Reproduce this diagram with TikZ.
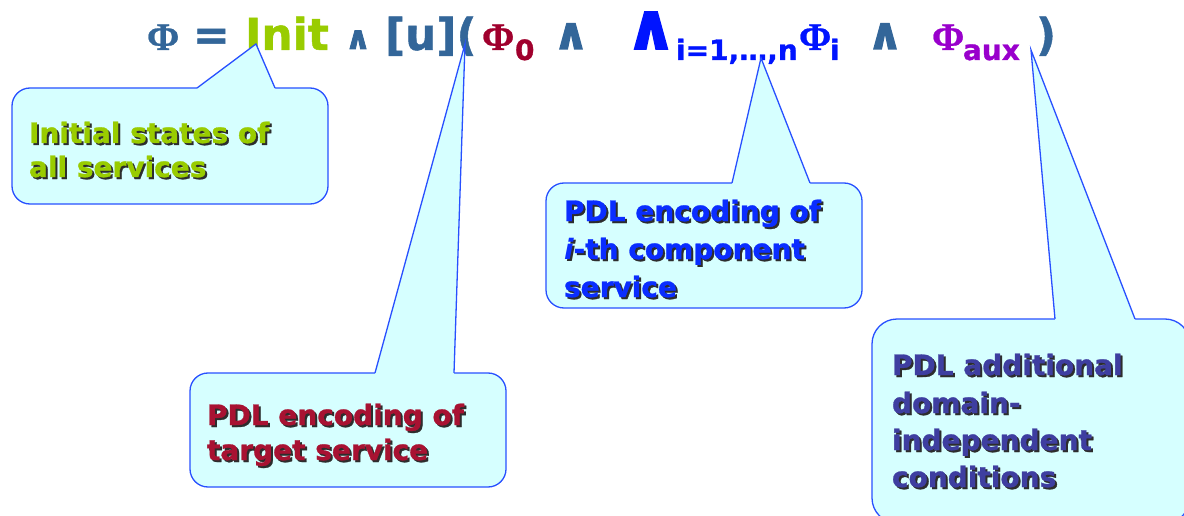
\documentclass[tikz,border=0pt]{standalone}
\usepackage{fontspec}
\setmainfont{DejaVu Sans}[BoldFeatures={FakeBold=1.0}]
\newfontfamily\phifont{Liberation Serif}[BoldFeatures={FakeBold=0.6}]
\newfontfamily\andfont{DejaVu Sans}[BoldFeatures={FakeBold=2.5}]
\usetikzlibrary{calc}

\definecolor{steel}{RGB}{51,102,153}
\definecolor{initgreen}{RGB}{153,204,0}
\definecolor{targetred}{RGB}{160,0,45}
\definecolor{compblue}{RGB}{0,20,255}
\definecolor{auxpurple}{RGB}{153,0,204}
\definecolor{boxfill}{RGB}{214,255,255}
\definecolor{boxedge}{RGB}{40,80,255}
\definecolor{txtshadow}{RGB}{45,45,45}
\definecolor{greentxt}{RGB}{153,204,0}
\definecolor{redtxt}{RGB}{168,18,50}
\definecolor{bluetxt}{RGB}{10,45,255}
\definecolor{indigotxt}{RGB}{62,62,160}

\tikzset{
  piece/.style={anchor=base west, inner sep=0pt, outer sep=0pt},
  bigtxt/.style={font=\fontsize{44}{50}\selectfont\bfseries},
  subtxt/.style={font=\fontsize{28}{32}\selectfont\bfseries},
  phitxt/.style={font=\fontsize{39}{44}\selectfont\bfseries\phifont},
  andtxt/.style={anchor=base, inner sep=0pt, outer sep=0pt},
  andsize/.style={font=\fontsize{#1}{#1}\selectfont\bfseries\andfont},
  callbox/.style={draw=boxedge, fill=boxfill, line width=1.3pt,
    rounded corners=#1, anchor=north west, inner sep=0pt, outer sep=0pt},
  callbox/.default=18pt,
  pointeredge/.style={draw=boxedge, line width=1.3pt, line join=miter},
  calltext/.style={anchor=base west, inner sep=0pt, outer sep=0pt,
    font=\fontsize{28}{34}\selectfont\bfseries},
}

% a line of callout text with a dark drop shadow behind it
\newcommand\calloutline[4]{%
  \node[calltext, text=txtshadow, xshift=2pt, yshift=-2pt] (#1s) at #2 {#4};
  \node[calltext, text=#3] (#1) at #2 {#4};}

% pointer of a callout: filled wedge from the box top edge up to the tip
\newcommand\calloutpointer[3]{%
  \fill[boxfill] (#1) -- (#2) -- ($(#2)+(0,2)$) -- ($(#3)+(0,2)$) -- (#3) -- cycle;
  \draw[pointeredge] (#2) -- (#1) -- (#3);}

\begin{document}
\begin{tikzpicture}[x=1pt, y=-1pt]
\useasboundingbox (0,0) rectangle (1184,516);
\fill[white] (0,0) rectangle (1184,516);
\clip (0,0) rectangle (1184,516);

% ---------- the formula ----------
\node[piece, phitxt, text=steel] (phi) at (147,50) {Φ};
\node[piece, bigtxt, text=steel] (eq) at (193,50) {=};
\node[piece, bigtxt, text=initgreen] (init) at (245,50) {Init};
\node[andtxt, andsize=32, text=steel] (and1) at (358,49) {∧};
\node[piece, bigtxt, text=steel] (box) at (385,50) {[u](};
\node[piece, phitxt, text=targetred] (phizero) at (482,50) {Φ};
\node[piece, subtxt, text=targetred] (zero) at (515,60) {0};
\node[andtxt, andsize=44, text=steel] (and2) at (571,49) {∧};
\node[andtxt, andsize=64, text=compblue] (bigand) at (651,49) {∧};
\node[piece, subtxt, text=compblue] (range) at (676,60) {i=1,…,n};
\node[piece, phitxt, text=compblue] (phii) at (799,50) {Φ};
\node[piece, subtxt, text=compblue] (isub) at (830,60) {i};
\node[andtxt, andsize=44, text=steel] (and3) at (885,49) {∧};
\node[piece, phitxt, text=auxpurple] (phiaux) at (932,50) {Φ};
\node[piece, subtxt, text=auxpurple] (aux) at (963,60) {aux};
\node[piece, bigtxt, text=steel] (close) at (1036,50) {)};

% ---------- callout boxes ----------
\node[callbox, minimum width=316pt, minimum height=116pt] (initbox) at (12,88) {};
\node[callbox, minimum width=316pt, minimum height=114pt] (targetbox) at (190,373) {};
\node[callbox, minimum width=316pt, minimum height=125pt] (compbox) at (546,183) {};
\node[callbox=25pt, minimum width=318pt, minimum height=204pt] (auxbox) at (872,319) {};

% ---------- pointers ----------
\coordinate (tipinit) at (256,44);
\coordinate (tiptarget) at (465,44);
\coordinate (tipcomp) at (761,58);
\coordinate (tipaux) at (1031,50);

\coordinate (ia) at ($(initbox.north west)+(185,0)$);
\coordinate (ib) at ($(initbox.north west)+(263,0)$);
\coordinate (ta) at ($(targetbox.north west)+(185,0)$);
\coordinate (tb) at ($(targetbox.north west)+(264,0)$);
\coordinate (ca) at ($(compbox.north west)+(186,0)$);
\coordinate (cb) at ($(compbox.north west)+(264,0)$);
\coordinate (aa) at ($(auxbox.north west)+(183,0)$);
\coordinate (ab) at ($(auxbox.north west)+(263,0)$);

\calloutpointer{tipinit}{ia}{ib}
\calloutpointer{tiptarget}{ta}{tb}
\calloutpointer{tipcomp}{ca}{cb}
\calloutpointer{tipaux}{aa}{ab}

% ---------- callout texts ----------
\calloutline{initA}{(29,143)}{greentxt}{Initial states of}
\calloutline{initB}{(29,177)}{greentxt}{all services}

\calloutline{targetA}{(207,425)}{redtxt}{PDL encoding of}
\calloutline{targetB}{(207,460)}{redtxt}{target service}

\calloutline{compA}{(564,221)}{bluetxt}{PDL encoding of}
\calloutline{compB}{(564,259)}{bluetxt}{\itshape i\upshape-th component}
\calloutline{compC}{(564,297)}{bluetxt}{service}

\calloutline{auxA}{(892,375)}{indigotxt}{PDL additional}
\calloutline{auxB}{(892,413)}{indigotxt}{domain-}
\calloutline{auxC}{(892,450)}{indigotxt}{independent}
\calloutline{auxD}{(892,487)}{indigotxt}{conditions}
\end{tikzpicture}
\end{document}
